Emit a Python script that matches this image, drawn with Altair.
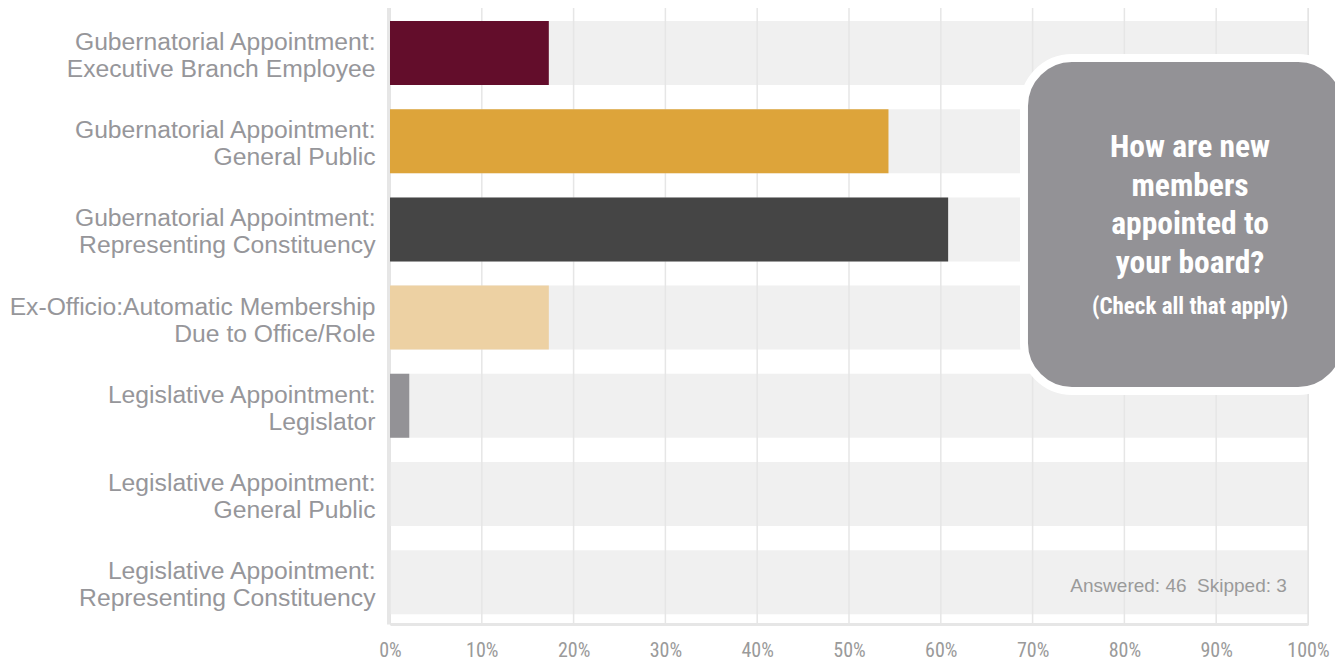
import altair as alt
import pandas as pd

categories = [
    "Gubernatorial Appointment:|Executive Branch Employee",
    "Gubernatorial Appointment:|General Public",
    "Gubernatorial Appointment:|Representing Constituency",
    "Ex-Officio:Automatic Membership |Due to Office/Role",
    "Legislative Appointment:|Legislator",
    "Legislative Appointment:|General Public",
    "Legislative Appointment:|Representing Constituency",
]
values = [17.3, 54.3, 60.8, 17.3, 2.1, 0.0, 0.0]
colors = ["#630d2b", "#dda43a", "#454545", "#edd1a3", "#939296", "#939296", "#939296"]
ticks = [0, 10, 20, 30, 40, 50, 60, 70, 80, 90, 100]
title_lines = ["How are new", "members", "appointed to", "your board?"]
subtitle = "(Check all that apply)"
footnote = "Answered: 46\u00a0 Skipped: 3"

df = pd.DataFrame({"cat": categories, "value": values, "full": [100] * len(categories)})
grid_df = pd.DataFrame({"t": ticks})
one = pd.DataFrame({"cat": [categories[-1]]})

LABEL_GREY = "#96969a"
LINE_GREY = "#e6e6e6"
COND = "Roboto Condensed, DejaVu Sans Condensed, Roboto, sans-serif"

xs = alt.Scale(domain=[0, 100], nice=False, zero=True)
x_axis = alt.Axis(
    title=None, values=ticks, grid=False, ticks=False, tickSize=0,
    labelExpr="datum.value + '%'", labelFont=COND,
    labelFontSize=20, labelColor="#9a9a9a", labelPadding=16,
    domainColor=LINE_GREY, domainWidth=3, labelFlush=False, labelOverlap=False,
)
ys = alt.Scale(paddingInner=0.274, paddingOuter=0.1463, align=0.62)
y_axis = alt.Axis(
    title=None, labelExpr="split(datum.label, '|')", labelFont="Liberation Sans",
    labelFontSize=24.7, labelColor=LABEL_GREY, labelLineHeight=27, labelPadding=13,
    ticks=False, tickSize=0, domainColor=LINE_GREY, domainWidth=3, offset=2,
    labelLimit=500, labelOffset=-10,
)

Y = alt.Y("cat:N", sort=categories, scale=ys, axis=y_axis)

bg = alt.Chart(df).mark_bar(color="#f0f0f0").encode(
    y=Y, x=alt.X("full:Q", scale=xs, axis=x_axis)
)
grid = alt.Chart(grid_df).mark_rule(color=LINE_GREY, strokeWidth=1.5).encode(
    x=alt.X("t:Q", scale=xs, axis=x_axis)
)
bars = alt.Chart(df).mark_bar().encode(
    y=Y,
    x=alt.X("value:Q", scale=xs, axis=x_axis),
    color=alt.Color("cat:N", scale=alt.Scale(domain=categories, range=colors), legend=None),
)
box = alt.Chart(one).mark_rect(
    cornerRadius=48, fill="#939296", stroke="white", strokeWidth=8
).encode(
    x=alt.datum(69.06, scale=xs, axis=x_axis), x2=alt.datum(104.14),
    y=alt.value(53), y2=alt.value(386),
)
title_txt = alt.Chart(one).mark_text(
    text=title_lines, lineHeight=38.5, font=COND,
    fontWeight="bold", fontSize=31.5, color="white", align="center", baseline="alphabetic",
).encode(x=alt.datum(87.15), y=alt.value(152))
sub_txt = alt.Chart(one).mark_text(
    text=subtitle, font=COND, fontWeight="bold", fontSize=23,
    color="white", align="center", baseline="alphabetic",
).encode(x=alt.datum(87.15), y=alt.value(309))
foot = alt.Chart(one).mark_text(
    text=footnote, font="Liberation Sans", fontSize=19, color="#9a9a9a",
    align="right", baseline="middle", dy=4,
).encode(y=Y, x=alt.datum(97.7))

chart = alt.layer(bg, grid, bars, box, title_txt, sub_txt, foot).properties(
    width=918, height=619,
    autosize=alt.AutoSizeParams(type="none"),
    padding={"left": 382, "top": -3, "right": 27, "bottom": 38},
).configure_view(stroke=None).configure(background="white")

chart.save("out.html", embed_options={"renderer": "svg", "actions": False})
